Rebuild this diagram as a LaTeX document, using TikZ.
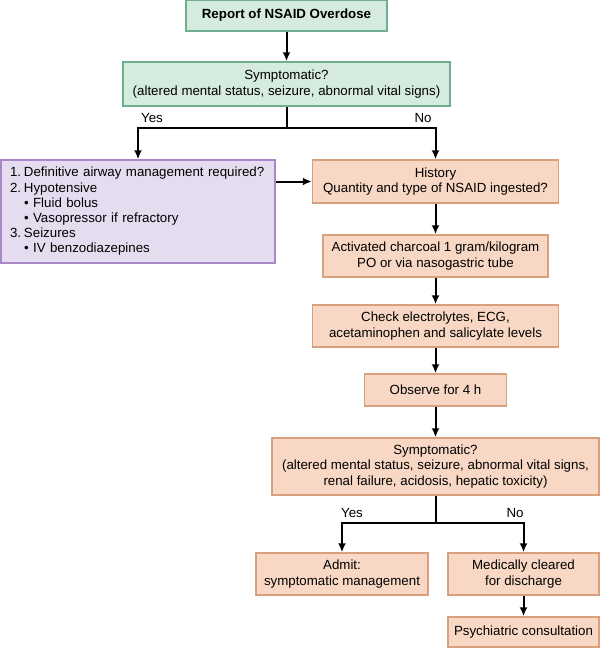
\documentclass[tikz,border=0pt]{standalone}
\usepackage{fontspec}
\setmainfont{Liberation Sans}
\usepackage{tikz}
\usetikzlibrary{arrows.meta, calc}
\definecolor{boxgreen}{HTML}{D5EBE0}
\definecolor{edgegreen}{HTML}{6FAE8F}
\definecolor{boxpurple}{HTML}{E6DCEF}
\definecolor{edgepurple}{HTML}{A888C8}
\definecolor{boxsalmon}{HTML}{F8D8C4}
\definecolor{edgesalmon}{HTML}{D9A07F}
\newcommand{\numitem}[1]{\makebox[14pt][l]{#1}}
\newcommand{\bulletline}{\hspace*{14pt}\textbullet\ }

\begin{document}
\begin{tikzpicture}[x=1pt, y=-1pt,
  font=\fontsize{13.3}{15.2}\selectfont,
  greenbox/.style={draw=edgegreen, fill=boxgreen, line width=1.5pt, align=center, inner sep=0pt},
  purplebox/.style={draw=edgepurple, fill=boxpurple, line width=1.5pt, align=left, inner sep=0pt},
  salmonbox/.style={draw=edgesalmon, fill=boxsalmon, line width=1.5pt, align=center, inner sep=0pt},
  flow/.style={line width=2pt, -{Latex[length=9pt, width=8pt]}},
  joint/.style={line width=2pt}]
\useasboundingbox (0,0) rectangle (600,648);
% top part
\node[greenbox, minimum width=201pt, minimum height=31pt] (report) at (286.5,15.5) {\textbf{Report of NSAID Overdose}};
\node[greenbox, minimum width=327pt, minimum height=44pt] (symp1) at (286.5,84) {Symptomatic?\\(altered mental status, seizure, abnormal vital signs)};
\node[purplebox, minimum width=274pt, minimum height=103pt, text width=256pt] (treat) at (138,211.5) {\numitem{1.}Definitive airway management required?\\
\numitem{2.}Hypotensive\\
\bulletline Fluid bolus\\
\bulletline Vasopressor if refractory\\
\numitem{3.}Seizures\\
\bulletline IV benzodiazepines};
% right column
\node[salmonbox, minimum width=246pt, minimum height=43pt] (hist) at (435.5,181.5) {History\\Quantity and type of NSAID ingested?};
\node[salmonbox, minimum width=225pt, minimum height=42pt] (charcoal) at (435.5,256) {Activated charcoal 1 gram/kilogram\\PO or via nasogastric tube};
\node[salmonbox, minimum width=246pt, minimum height=42pt] (check) at (435.5,326) {Check electrolytes, ECG,\\acetaminophen and salicylate levels};
\node[salmonbox, minimum width=142pt, minimum height=32pt] (observe) at (435.5,390) {Observe for 4 h};
\node[salmonbox, minimum width=327pt, minimum height=57pt] (symp2) at (435.5,466.5) {Symptomatic?\\(altered mental status, seizure, abnormal vital signs,\\renal failure, acidosis, hepatic toxicity)};
\node[salmonbox, minimum width=172pt, minimum height=42pt] (admit) at (342,574) {Admit:\\symptomatic management};
\node[salmonbox, minimum width=151pt, minimum height=42pt] (cleared) at (523.5,574) {Medically cleared\\for discharge};
\node[salmonbox, minimum width=151pt, minimum height=30pt] (psych) at (523.5,632) {Psychiatric consultation};

% branch points and labels
\coordinate (split1) at (symp1.south |- 0,128);
\coordinate (split2) at (symp2.south |- 0,523);
\node (yes1) at (152,118) {Yes};
\node (no1) at (423,118) {No};
\node (yes2) at (352,513) {Yes};
\node (no2) at (515,513) {No};

% connectors
\draw[flow] (report) -- (symp1);
\draw[joint] (symp1.south) -- (split1);
\draw[flow] (split1) -| (treat.north);
\draw[flow] (split1) -| (hist.north);
\draw[flow] (treat.east |- hist.west) -- (hist.west);
\draw[flow] (hist) -- (charcoal);
\draw[flow] (charcoal) -- (check);
\draw[flow] (check) -- (observe);
\draw[flow] (observe) -- (symp2);
\draw[joint] (symp2.south) -- (split2);
\draw[flow] (split2) -| (admit.north);
\draw[flow] (split2) -| (cleared.north);
\draw[flow] (cleared) -- (psych);
\end{tikzpicture}
\end{document}
